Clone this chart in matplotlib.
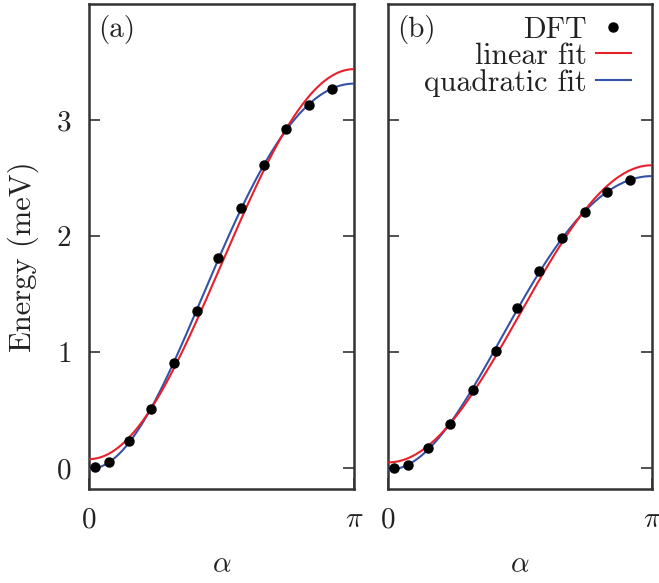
import numpy as np
import matplotlib
matplotlib.use("Agg")
import matplotlib.pyplot as plt

plt.rcParams['font.family'] = 'serif'
plt.rcParams['font.serif'] = ['cmr10']
plt.rcParams['mathtext.fontset'] = 'cm'
plt.rcParams['axes.formatter.use_mathtext'] = True

# DFT points (angle alpha in rad, energy in meV)
alpha = [0.07, 0.24, 0.48, 0.74, 1.01, 1.28, 1.53, 1.80, 2.07, 2.34, 2.61, 2.88]
energy_a = [0.01, 0.05, 0.23, 0.51, 0.91, 1.35, 1.81, 2.24, 2.61, 2.92, 3.13, 3.27]
energy_b = [0.00, 0.03, 0.17, 0.38, 0.67, 1.01, 1.38, 1.70, 1.98, 2.21, 2.38, 2.48]
panel_labels = ['(a)', '(b)']

red = '#e8202a'
blue = '#3553a6'
txt = '#222222'

fig = plt.figure(figsize=(6.59, 5.83), dpi=100)
ax_a = fig.add_axes([89/659, 1 - 489/583, 265/659, 485/583])
ax_b = fig.add_axes([388/659, 1 - 489/583, 264/659, 485/583])

a_fine = np.linspace(0, np.pi, 300)
for ax, energy, lab in zip([ax_a, ax_b], [energy_a, energy_b], panel_labels):
    # fits in cos(alpha): linear and quadratic
    c = np.cos(alpha)
    lin = np.polyfit(c, energy, 1)
    quad = np.polyfit(c, energy, 2)
    ax.plot(alpha, energy, 'o', color='black', ms=6.5, zorder=5, label='DFT')
    ax.plot(a_fine, np.polyval(lin, np.cos(a_fine)), color=red, lw=1.5,
            zorder=4, label='linear fit')
    ax.plot(a_fine, np.polyval(quad, np.cos(a_fine)), color=blue, lw=1.5,
            zorder=3, label='quadratic fit')
    ax.set_xlim(0, np.pi)
    ax.set_ylim(-0.18, 4.0)
    ax.set_xticks([0, np.pi])
    ax.set_xticklabels(['$0$', r'$\pi$'])
    ax.set_yticks([0, 1, 2, 3])
    ax.tick_params(axis='both', direction='in', length=8, width=1.2,
                   right=True, labelsize=21, colors='#333333',
                   labelcolor=txt)
    ax.tick_params(axis='x', pad=13)
    ax.tick_params(axis='y', pad=13)
    ax.set_xlabel(r'$\alpha$', fontsize=21, labelpad=13, color=txt)
    for s in ax.spines.values():
        s.set_linewidth(1.8)
        s.set_color('#333333')
    ax.text(0.036, 0.977, lab, transform=ax.transAxes, ha='left', va='top',
            fontsize=21, color=txt)

ax_a.set_ylabel('Energy (meV)', fontsize=22, color=txt)
ax_a.yaxis.set_label_coords(-0.19, 0.48)
ax_b.tick_params(axis='y', labelleft=False)

h, l = ax_b.get_legend_handles_labels()
leg = ax_b.legend(h, l, loc='upper right', bbox_to_anchor=(0.92, 0.975),
                  markerfirst=False, frameon=False, fontsize=21.5,
                  handlelength=1.17, handletextpad=0.3, labelspacing=-0.04,
                  borderpad=0, borderaxespad=0)
for t in leg.get_texts():
    t.set_color(txt)

fig.savefig('out.png', dpi=100)
